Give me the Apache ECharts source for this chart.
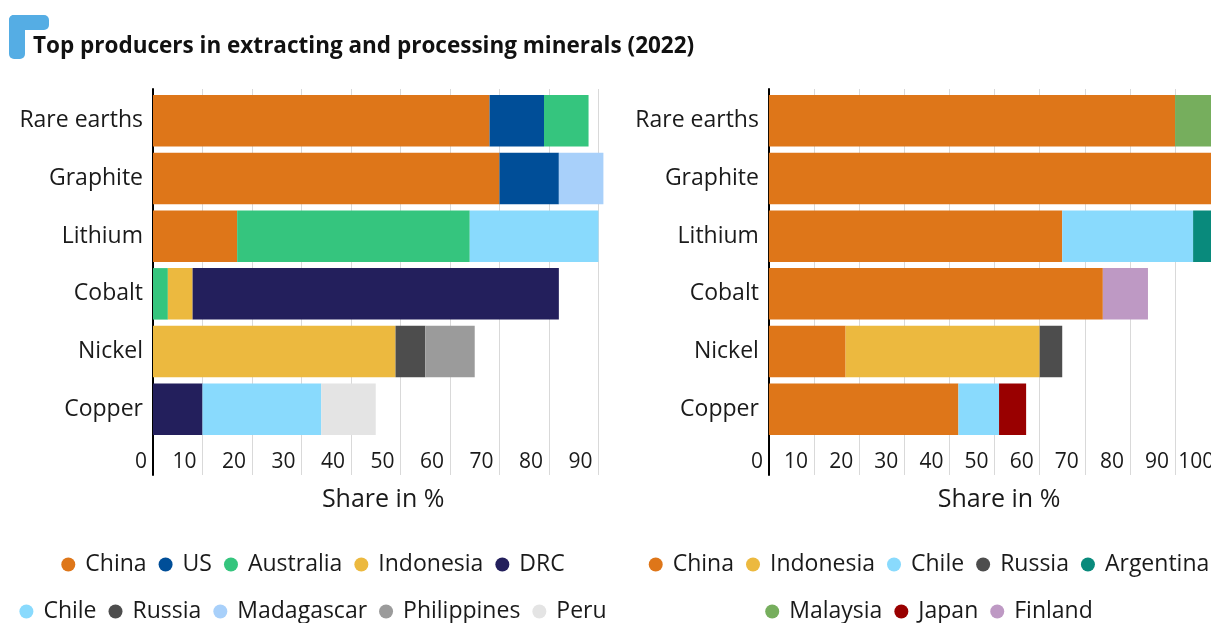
<!DOCTYPE html>
<html>
<head>
<meta charset="utf-8">
<script src="https://cdn.jsdelivr.net/npm/echarts@6/dist/echarts.min.js"></script>
<style>
  html, body { margin: 0; padding: 0; background: #fff; overflow: hidden; }
  /* the processing panel runs past the right edge of the window */
  #chart { width: 1240px; height: 623px; }
</style>
</head>
<body>
<div id="chart"></div>
<script>
// Minerals, top to bottom
const minerals = ['Rare earths', 'Graphite', 'Lithium', 'Cobalt', 'Nickel', 'Copper'];

// Extraction: share of world output in % (null = not among the top producers)
const extChina       = [68, 70, 17, null, null, null];
const extUS          = [11, 12, null, null, null, null];
const extAustralia   = [9, null, 47, 3, null, null];
const extIndonesia   = [null, null, null, 5, 49, null];
const extDRC         = [null, null, null, 74, null, 10];
const extChile       = [null, null, 26, null, null, 24];
const extRussia      = [null, null, null, null, 6, null];
const extMadagascar  = [null, 9, null, null, null, null];
const extPhilippines = [null, null, null, null, 10, null];
const extPeru        = [null, null, null, null, null, 11];

// Processing: share of world output in %
const procChina     = [90, 100, 65, 74, 17, 42];
const procIndonesia = [null, null, null, null, 43, null];
const procChile     = [null, null, 29, null, null, 9];
const procRussia    = [null, null, null, null, 5, null];
const procArgentina = [null, null, 5, null, null, null];
const procMalaysia  = [9, null, null, null, null, null];
const procJapan     = [null, null, null, null, null, 6];
const procFinland   = [null, null, null, 10, null, null];

// Axis ranges
const extMax = 93;
const procMax = 102;
const tickStep = 10;

// Legend rows
const extLegendRow1 = ['China', 'US', 'Australia', 'Indonesia', 'DRC'];
const extLegendRow2 = ['Chile', 'Russia', 'Madagascar', 'Philippines', 'Peru'];
const procLegendRow1 = ['China', 'Indonesia', 'Chile', 'Russia', 'Argentina'];
const procLegendRow2 = ['Malaysia', 'Japan', 'Finland'];

const titleText = 'Top producers in extracting and processing minerals (2022)';
const axisTitle = 'Share in %';

// Country colours
const colors = {
  China: '#DE7619', US: '#004E98', Australia: '#35C57E', Indonesia: '#ECB93F',
  DRC: '#231F5C', Chile: '#89DAFD', Russia: '#4D4D4D', Madagascar: '#A8D0FA',
  Philippines: '#9B9B9B', Peru: '#E4E4E4', Argentina: '#098A7C',
  Malaysia: '#76AE5D', Japan: '#990000', Finland: '#BE99C4'
};

const FONT = '"Open Sans", "Noto Sans", sans-serif';
const TEXT = '#1a1a1a';
const TICK_FS = 21;   // tick numbers
const CAT_FS = 23;    // mineral names
const NAME_FS = 25;   // axis title
const LEG_FS = 23;    // legend entries

const extSeries = [
  ['China', extChina], ['US', extUS], ['Australia', extAustralia],
  ['Indonesia', extIndonesia], ['DRC', extDRC], ['Chile', extChile],
  ['Russia', extRussia], ['Madagascar', extMadagascar],
  ['Philippines', extPhilippines], ['Peru', extPeru]
];
const procSeries = [
  ['China', procChina], ['Indonesia', procIndonesia], ['Chile', procChile],
  ['Russia', procRussia], ['Argentina', procArgentina], ['Malaysia', procMalaysia],
  ['Japan', procJapan], ['Finland', procFinland]
];

function bars(list, axisIdx, stack) {
  return list.map(([name, data]) => ({
    type: 'bar', name, data, stack,
    xAxisIndex: axisIdx, yAxisIndex: axisIdx,
    barWidth: 51.5,
    itemStyle: { color: colors[name] },
    emphasis: { disabled: true }
  }));
}

// Panel geometry
const panelW = 460.3;
const leftX = 153;
const rightX = 768.9;
const barTop = 91.9, barH = 346.2;
const frameTop = 89, frameH = 386;

function barsX(max, gridIndex) {
  return { type: 'value', gridIndex, min: 0, max, show: false };
}
function frameX(max, gridIndex) {
  return {
    type: 'value', gridIndex, min: 0, max, interval: tickStep,
    axisLine: { show: false }, axisTick: { show: false },
    splitLine: { show: true, showMinLine: false, showMaxLine: false,
      lineStyle: { color: '#d9d9d9', width: 1 } },
    axisLabel: { inside: true, margin: 2, align: 'right', padding: [0, 6, 0, 0],
      fontSize: TICK_FS, color: TEXT, fontFamily: FONT, showMaxLabel: false },
    name: axisTitle, nameLocation: 'middle', nameGap: 12,
    nameTextStyle: { fontSize: NAME_FS, color: TEXT, fontFamily: FONT, verticalAlign: 'top' }
  };
}
function catY(gridIndex) {
  return {
    type: 'category', gridIndex, data: minerals, inverse: true,
    axisLine: { show: false }, axisTick: { show: false },
    axisLabel: { margin: 10, fontSize: CAT_FS, color: TEXT, fontFamily: FONT, padding: [6, 0, 0, 0] }
  };
}
function frameY(gridIndex) {
  return {
    type: 'value', gridIndex, min: 0, max: 1,
    axisLine: { show: true, lineStyle: { color: '#000', width: 2 } },
    axisTick: { show: false }, axisLabel: { show: false }, splitLine: { show: false }
  };
}

// Centre a legend row on a given x using measured text widths
const ctx = document.createElement('canvas').getContext('2d');
ctx.font = LEG_FS + 'px ' + FONT;
const ITEM_W = 14, ITEM_H = 14, ITEM_GAP = 12, TEXT_PAD = 5;
function legendRow(names, cx, cy) {
  let w = 0;
  names.forEach((n, i) => {
    w += ITEM_W + 5 + TEXT_PAD + ctx.measureText(n).width + (i ? ITEM_GAP : 0);
  });
  return {
    data: names, orient: 'horizontal', left: cx - w / 2, top: cy - 9,
    padding: 0, itemWidth: ITEM_W, itemHeight: ITEM_H, itemGap: ITEM_GAP,
    icon: 'circle', selectedMode: false,
    textStyle: { fontSize: LEG_FS, color: TEXT, fontFamily: FONT, padding: [0, 0, 0, TEXT_PAD] }
  };
}

const chart = echarts.init(document.getElementById('chart'), null, { renderer: 'canvas' });
chart.setOption({
  animation: false,
  backgroundColor: '#fff',
  title: {
    text: titleText, left: 33, top: 35, padding: 0,
    textStyle: { fontSize: 22.5, fontWeight: 'bold', color: '#111', fontFamily: FONT }
  },
  graphic: [
    { type: 'rect', shape: { x: 9, y: 15, width: 40, height: 15, r: 5 }, style: { fill: '#55ADE4' } },
    { type: 'rect', shape: { x: 9, y: 15, width: 16, height: 44, r: 5 }, style: { fill: '#55ADE4' } }
  ],
  grid: [
    { left: leftX, top: barTop, width: panelW, height: barH },
    { left: leftX, top: frameTop, width: panelW, height: frameH },
    { left: rightX, top: barTop, width: panelW, height: barH },
    { left: rightX, top: frameTop, width: panelW, height: frameH }
  ],
  xAxis: [barsX(extMax, 0), frameX(extMax, 1), barsX(procMax, 2), frameX(procMax, 3)],
  yAxis: [catY(0), frameY(1), catY(2), frameY(3)],
  legend: [
    legendRow(extLegendRow1, 313, 562),
    legendRow(extLegendRow2, 313, 609),
    legendRow(procLegendRow1, 929, 562),
    legendRow(procLegendRow2, 929, 609)
  ],
  series: [].concat(bars(extSeries, 0, 'extraction'), bars(procSeries, 2, 'processing'))
});
</script>
</body>
</html>
